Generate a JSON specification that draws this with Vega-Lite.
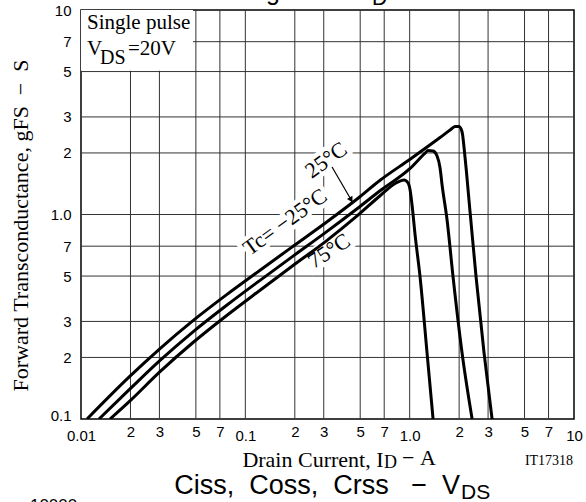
{
  "$schema": "https://vega.github.io/schema/vega-lite/v6.json",
  "width": 493,
  "height": 409,
  "autosize": {"type": "none"},
  "padding": {"left": 81, "top": 10, "right": 12, "bottom": 83},
  "background": "white",
  "config": {
    "view": {"stroke": "black", "strokeWidth": 1.5},
    "axis": {
      "domain": false,
      "grid": false,
      "tickSize": 0,
      "tickOpacity": 0,
      "labelFont": "Liberation Sans",
      "labelFontSize": 15,
      "labelColor": "black",
      "titleFont": "Liberation Serif",
      "titleFontWeight": "normal",
      "titleColor": "black"
    }
  },
  "datasets": {
    "vgrid": [
      {"x": 0.02, "y": 0.1, "y2": 10}, {"x": 0.03, "y": 0.1, "y2": 10}, {"x": 0.05, "y": 0.1, "y2": 10}, {"x": 0.07, "y": 0.1, "y2": 10},
      {"x": 0.1, "y": 0.1, "y2": 10}, {"x": 0.2, "y": 0.1, "y2": 10}, {"x": 0.3, "y": 0.1, "y2": 10}, {"x": 0.5, "y": 0.1, "y2": 10},
      {"x": 0.7, "y": 0.1, "y2": 10}, {"x": 1, "y": 0.1, "y2": 10}, {"x": 2, "y": 0.1, "y2": 10}, {"x": 3, "y": 0.1, "y2": 10},
      {"x": 5, "y": 0.1, "y2": 10}, {"x": 7, "y": 0.1, "y2": 10}
    ],
    "hgrid": [
      {"x": 0.01, "x2": 10, "y": 0.2}, {"x": 0.01, "x2": 10, "y": 0.3}, {"x": 0.01, "x2": 10, "y": 0.5}, {"x": 0.01, "x2": 10, "y": 0.7},
      {"x": 0.01, "x2": 10, "y": 1}, {"x": 0.01, "x2": 10, "y": 2}, {"x": 0.01, "x2": 10, "y": 3}, {"x": 0.01, "x2": 10, "y": 5},
      {"x": 0.01, "x2": 10, "y": 7}
    ],
    "curves": [
      {"s": "a", "x": 0.01088, "y": 0.1},
      {"s": "a", "x": 0.01987, "y": 0.162},
      {"s": "a", "x": 0.03026, "y": 0.2211},
      {"s": "a", "x": 0.04805, "y": 0.3028},
      {"s": "a", "x": 0.07737, "y": 0.4069},
      {"s": "a", "x": 0.1229, "y": 0.5342},
      {"s": "a", "x": 0.1951, "y": 0.6991},
      {"s": "a", "x": 0.3143, "y": 0.9215},
      {"s": "a", "x": 0.4785, "y": 1.19},
      {"s": "a", "x": 0.6604, "y": 1.47},
      {"s": "a", "x": 1.006, "y": 1.864},
      {"s": "a", "x": 1.531, "y": 2.38},
      {"s": "a", "x": 1.762, "y": 2.589},
      {"s": "a", "x": 1.889, "y": 2.693},
      {"s": "a", "x": 1.998, "y": 2.693},
      {"s": "a", "x": 2.084, "y": 2.532},
      {"s": "a", "x": 2.174, "y": 1.889},
      {"s": "a", "x": 2.331, "y": 1.029},
      {"s": "a", "x": 2.536, "y": 0.4948},
      {"s": "a", "x": 2.836, "y": 0.2102},
      {"s": "a", "x": 3.173, "y": 0.1},
      {"s": "b", "x": 0.01287, "y": 0.1},
      {"s": "b", "x": 0.01987, "y": 0.1403},
      {"s": "b", "x": 0.03026, "y": 0.1934},
      {"s": "b", "x": 0.04805, "y": 0.2668},
      {"s": "b", "x": 0.07737, "y": 0.3608},
      {"s": "b", "x": 0.1229, "y": 0.4764},
      {"s": "b", "x": 0.1951, "y": 0.6258},
      {"s": "b", "x": 0.3143, "y": 0.827},
      {"s": "b", "x": 0.4785, "y": 1.067},
      {"s": "b", "x": 0.6604, "y": 1.306},
      {"s": "b", "x": 1.006, "y": 1.68},
      {"s": "b", "x": 1.241, "y": 1.995},
      {"s": "b", "x": 1.294, "y": 2.056},
      {"s": "b", "x": 1.388, "y": 2.044},
      {"s": "b", "x": 1.468, "y": 1.932},
      {"s": "b", "x": 1.531, "y": 1.688},
      {"s": "b", "x": 1.575, "y": 1.394},
      {"s": "b", "x": 1.689, "y": 0.9399},
      {"s": "b", "x": 1.837, "y": 0.4948},
      {"s": "b", "x": 2.084, "y": 0.2102},
      {"s": "b", "x": 2.399, "y": 0.1},
      {"s": "c", "x": 0.01501, "y": 0.1},
      {"s": "c", "x": 0.01987, "y": 0.1227},
      {"s": "c", "x": 0.03026, "y": 0.1704},
      {"s": "c", "x": 0.04805, "y": 0.2366},
      {"s": "c", "x": 0.07737, "y": 0.3217},
      {"s": "c", "x": 0.1229, "y": 0.4265},
      {"s": "c", "x": 0.1951, "y": 0.5628},
      {"s": "c", "x": 0.3143, "y": 0.7472},
      {"s": "c", "x": 0.4785, "y": 0.984},
      {"s": "c", "x": 0.6604, "y": 1.235},
      {"s": "c", "x": 0.8264, "y": 1.426},
      {"s": "c", "x": 0.9245, "y": 1.475},
      {"s": "c", "x": 0.978, "y": 1.426},
      {"s": "c", "x": 1.006, "y": 1.318},
      {"s": "c", "x": 1.034, "y": 1.113},
      {"s": "c", "x": 1.079, "y": 0.7942},
      {"s": "c", "x": 1.157, "y": 0.4948},
      {"s": "c", "x": 1.276, "y": 0.2102},
      {"s": "c", "x": 1.388, "y": 0.1}
    ],
    "box": [{"x": 0.01, "x2": 0.048, "y": 5.05, "y2": 10}],
    "labels": [
      {"t": "Tc= −25°C", "x": 0.1744, "y": 0.919},
      {"t": "25°C", "x": 0.31, "y": 1.847}
    ],
    "labels75": [
      {"t": "75°C", "x": 0.323, "y": 0.663}
    ],
    "arrow": [{"x": 0.337, "y": 1.707, "x2": 0.452, "y2": 1.138}],
    "head": [{"x": 0.44, "y": 1.18}],
    "note": [
      {"t": "Single pulse", "x": 0.01088, "y": 8.075},
      {"t": "V", "x": 0.01088, "y": 6.026},
      {"t": "=20V", "x": 0.01932, "y": 6.026}
    ],
    "notesub": [{"t": "DS", "x": 0.01305, "y": 5.444}],
    "xsub": [{"t": "D", "x": 0.6985, "y": 0.0576}],
    "xrest": [{"t": "−\u00a0A", "x": 0.899, "y": 0.0596}],
    "big": [{"t": "Ciss,\u00a0\u00a0Coss,\u00a0\u00a0Crss\u00a0\u00a0\u00a0−\u00a0\u00a0V", "x": 2.027, "y": 0.04298}],
    "bigsub": [{"t": "DS", "x": 2.055, "y": 0.04062}],
    "code": [{"t": "IT17318", "x": 9.874, "y": 0.0596}],
    "below": [{"t": "10000", "x": 0.00489, "y": 0.0355}],
    "above": [{"t": "gFS\u00a0\u00a0−\u00a0\u00a0I", "x": 0.1337, "y": 11.19}],
    "abovesub": [{"t": "D", "x": 0.5904, "y": 10.58}]
  },
  "encoding": {
    "x": {
      "field": "x",
      "type": "quantitative",
      "scale": {"type": "log", "domain": [0.01, 10], "nice": false},
      "axis": {
        "values": [0.01, 0.02, 0.03, 0.05, 0.07, 0.1, 0.2, 0.3, 0.5, 0.7, 1, 2, 3, 5, 7, 10],
        "labelExpr": "datum.value == 0.01 ? '0.01' : datum.value == 0.1 ? '0.1' : datum.value == 1 ? '1.0' : datum.value == 10 ? '10' : substring(format(datum.value, '.0e'), 0, 1)",
        "labelPadding": {"condition": {"test": "datum.value == 0.01 || datum.value == 0.1 || datum.value == 1 || datum.value == 10", "value": 9}, "value": 5},
        "labelFlush": false,
        "labelOverlap": false,
        "title": "Drain Current, I",
        "titleFontSize": 22,
        "titleX": 302,
        "titleY": 47,
        "titleAlign": "right",
        "titleBaseline": "alphabetic"
      }
    },
    "y": {
      "field": "y",
      "type": "quantitative",
      "scale": {"type": "log", "domain": [0.1, 10], "nice": false},
      "axis": {
        "values": [0.1, 0.2, 0.3, 0.5, 0.7, 1, 2, 3, 5, 7, 10],
        "labelExpr": "datum.value == 0.1 ? '0.1' : datum.value == 1 ? '1.0' : datum.value == 10 ? '10' : substring(format(datum.value, '.0e'), 0, 1)",
        "labelPadding": 10,
        "labelOffset": {"condition": {"test": "datum.value == 0.1", "value": -4}, "value": 0},
        "labelFlush": false,
        "labelOverlap": false,
        "title": "Forward Transconductance, gFS\u00a0\u00a0−\u00a0\u00a0S",
        "titleFontSize": 22,
        "titleX": -61,
        "titleY": 215,
        "titleAngle": -90,
        "titleAlign": "center",
        "titleBaseline": "middle"
      }
    }
  },
  "layer": [
    {"data": {"name": "vgrid"}, "mark": {"type": "rule", "color": "#333", "strokeWidth": 1}, "encoding": {"y2": {"field": "y2"}}},
    {"data": {"name": "hgrid"}, "mark": {"type": "rule", "color": "#333", "strokeWidth": 1}, "encoding": {"x2": {"field": "x2"}}},
    {"data": {"name": "box"}, "mark": {"type": "rect", "fill": "white"}, "encoding": {"x2": {"field": "x2"}, "y2": {"field": "y2"}}},
    {"data": {"name": "labels"}, "mark": {"type": "text", "font": "Liberation Serif", "fontSize": 22, "fill": "white", "stroke": "white", "strokeWidth": 9, "align": "center", "baseline": "middle", "angle": -36}, "encoding": {"text": {"field": "t"}}},
    {"data": {"name": "labels75"}, "mark": {"type": "text", "font": "Liberation Serif", "fontSize": 22, "fill": "white", "stroke": "white", "strokeWidth": 9, "align": "center", "baseline": "middle", "angle": -33}, "encoding": {"text": {"field": "t"}}},
    {"data": {"name": "curves"}, "mark": {"type": "line", "color": "black", "strokeWidth": 3, "interpolate": "monotone", "clip": true}, "encoding": {"detail": {"field": "s"}}},
    {"data": {"name": "labels"}, "mark": {"type": "text", "font": "Liberation Serif", "fontSize": 22, "fill": "black", "align": "center", "baseline": "middle", "angle": -36}, "encoding": {"text": {"field": "t"}}},
    {"data": {"name": "labels75"}, "mark": {"type": "text", "font": "Liberation Serif", "fontSize": 22, "fill": "black", "align": "center", "baseline": "middle", "angle": -33}, "encoding": {"text": {"field": "t"}}},
    {"data": {"name": "arrow"}, "mark": {"type": "rule", "color": "black", "strokeWidth": 1.2}, "encoding": {"x2": {"field": "x2"}, "y2": {"field": "y2"}}},
    {"data": {"name": "head"}, "mark": {"type": "point", "shape": "triangle-down", "filled": true, "color": "black", "opacity": 1, "size": 40, "angle": -30}},
    {"data": {"name": "note"}, "mark": {"type": "text", "font": "Liberation Serif", "fontSize": 21, "color": "black", "align": "left", "baseline": "alphabetic"}, "encoding": {"text": {"field": "t"}}},
    {"data": {"name": "notesub"}, "mark": {"type": "text", "font": "Liberation Serif", "fontSize": 20, "color": "black", "align": "left", "baseline": "alphabetic"}, "encoding": {"text": {"field": "t"}}},
    {"data": {"name": "xsub"}, "mark": {"type": "text", "font": "Liberation Serif", "fontSize": 18, "color": "black", "align": "left", "baseline": "alphabetic"}, "encoding": {"text": {"field": "t"}}},
    {"data": {"name": "xrest"}, "mark": {"type": "text", "font": "Liberation Serif", "fontSize": 22, "color": "black", "align": "left", "baseline": "alphabetic"}, "encoding": {"text": {"field": "t"}}},
    {"data": {"name": "big"}, "mark": {"type": "text", "font": "Liberation Sans", "fontSize": 27, "color": "black", "align": "right", "baseline": "alphabetic"}, "encoding": {"text": {"field": "t"}}},
    {"data": {"name": "bigsub"}, "mark": {"type": "text", "font": "Liberation Sans", "fontSize": 21, "color": "black", "align": "left", "baseline": "alphabetic"}, "encoding": {"text": {"field": "t"}}},
    {"data": {"name": "code"}, "mark": {"type": "text", "font": "Liberation Serif", "fontSize": 14, "color": "black", "align": "right", "baseline": "alphabetic"}, "encoding": {"text": {"field": "t"}}},
    {"data": {"name": "below"}, "mark": {"type": "text", "font": "Liberation Sans", "fontSize": 17, "color": "black", "align": "left", "baseline": "alphabetic"}, "encoding": {"text": {"field": "t"}}},
    {"data": {"name": "above"}, "mark": {"type": "text", "font": "Liberation Sans", "fontSize": 25, "color": "black", "align": "left", "baseline": "alphabetic"}, "encoding": {"text": {"field": "t"}}},
    {"data": {"name": "abovesub"}, "mark": {"type": "text", "font": "Liberation Sans", "fontSize": 21, "color": "black", "align": "left", "baseline": "alphabetic"}, "encoding": {"text": {"field": "t"}}}
  ]
}
